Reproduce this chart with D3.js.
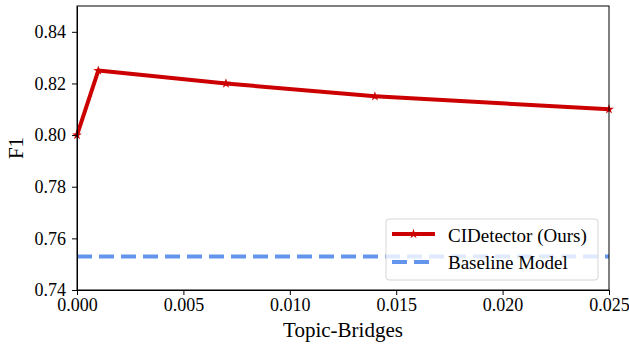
<!DOCTYPE html>
<html><head>
<meta charset="utf-8">
<script src="https://d3js.org/d3.v7.min.js"></script>
<style>
  body { margin: 0; background: #fff; }
  svg text { font-family: "Liberation Serif", "Times New Roman", serif; fill: #000; }
  .axis path, .axis line { stroke: #000; stroke-width: 1; }
</style>
</head>
<body>
<svg id="chart" width="629" height="345"></svg>
<script>
  // values
  const bridges = [0, 0.001, 0.007, 0.014, 0.025];
  const f1 = [0.800, 0.825, 0.820, 0.815, 0.810];
  const baselineF1 = 0.753;
  const xTicks = [0, 0.005, 0.010, 0.015, 0.020, 0.025];
  const yTicks = [0.74, 0.76, 0.78, 0.80, 0.82, 0.84];
  const seriesNames = ["CIDetector (Ours)", "Baseline Model"];

  const serif = "'Liberation Serif', 'Times New Roman', serif";
  const svg = d3.select("svg#chart");
  const margin = {top: 6, right: 20, bottom: 55, left: 77};
  const chartWidth = 609 - margin.left;
  const chartHeight = 290 - margin.top;

  const xScale = d3.scaleLinear().domain([0, 0.025]).range([0, chartWidth]);
  const yScale = d3.scaleLinear().domain([0.74, 0.85]).range([chartHeight, 0]);

  let chartArea = svg.append("g")
    .attr("transform", "translate(" + margin.left + "," + margin.top + ")");

  // baseline dashed line
  chartArea.append("line")
    .attr("x1", xScale(0)).attr("x2", xScale(0.025))
    .attr("y1", yScale(baselineF1)).attr("y2", yScale(baselineF1))
    .attr("stroke", "#6495ED").attr("stroke-width", 4)
    .attr("stroke-dasharray", "15,7");

  // our model
  const line = d3.line().x((d, i) => xScale(bridges[i])).y(d => yScale(d));
  chartArea.append("path")
    .datum(f1)
    .attr("d", line)
    .attr("fill", "none")
    .attr("stroke", "#CC0000").attr("stroke-width", 4)
    .attr("stroke-linejoin", "round");

  const star = d3.symbol().type(d3.symbolStar).size(30);
  chartArea.selectAll(".pt").data(f1).join("path")
    .attr("class", "pt")
    .attr("d", star)
    .attr("transform", (d, i) => "translate(" + xScale(bridges[i]) + "," + yScale(d) + ")")
    .attr("fill", "#CC0000");

  // axes
  chartArea.append("g").attr("class", "axis")
    .attr("transform", "translate(0," + chartHeight + ")")
    .call(d3.axisBottom(xScale).tickValues(xTicks).tickFormat(d3.format(".3f"))
      .tickSize(5).tickPadding(3).tickSizeOuter(0))
    .attr("font-family", serif).attr("font-size", 18);

  chartArea.append("g").attr("class", "axis")
    .call(d3.axisLeft(yScale).tickValues(yTicks).tickFormat(d3.format(".2f"))
      .tickSize(5).tickPadding(6).tickSizeOuter(0))
    .attr("font-family", serif).attr("font-size", 18);

  // frame
  chartArea.append("rect")
    .attr("width", chartWidth).attr("height", chartHeight)
    .attr("fill", "none").attr("stroke", "#000").attr("stroke-width", 1);

  // axis labels
  svg.append("text")
    .attr("x", margin.left + chartWidth / 2).attr("y", 337)
    .attr("text-anchor", "middle").style("font-size", "21px")
    .text("Topic-Bridges");
  svg.append("text")
    .attr("transform", "translate(23," + (margin.top + chartHeight / 2) + ") rotate(-90)")
    .attr("text-anchor", "middle").style("font-size", "21px")
    .text("F1");

  // legend
  let legend = svg.append("g").attr("transform", "translate(386,219)");
  legend.append("rect")
    .attr("width", 212).attr("height", 61).attr("rx", 3)
    .attr("fill", "#fff").attr("fill-opacity", 0.8)
    .attr("stroke", "#d6d6d6").attr("stroke-width", 1);
  legend.append("line")
    .attr("x1", 6).attr("x2", 49).attr("y1", 15).attr("y2", 15)
    .attr("stroke", "#CC0000").attr("stroke-width", 4);
  legend.append("path").attr("d", star)
    .attr("transform", "translate(27.5,15)").attr("fill", "#CC0000");
  legend.append("line")
    .attr("x1", 6).attr("x2", 49).attr("y1", 43).attr("y2", 43)
    .attr("stroke", "#6495ED").attr("stroke-width", 4)
    .attr("stroke-dasharray", "15,7");
  legend.selectAll(".lbl").data(seriesNames).join("text")
    .attr("class", "lbl")
    .attr("x", 62).attr("y", (d, i) => 16 + i * 27)
    .attr("dy", "0.35em")
    .style("font-size", "19px")
    .text(d => d);
</script>
</body></html>
